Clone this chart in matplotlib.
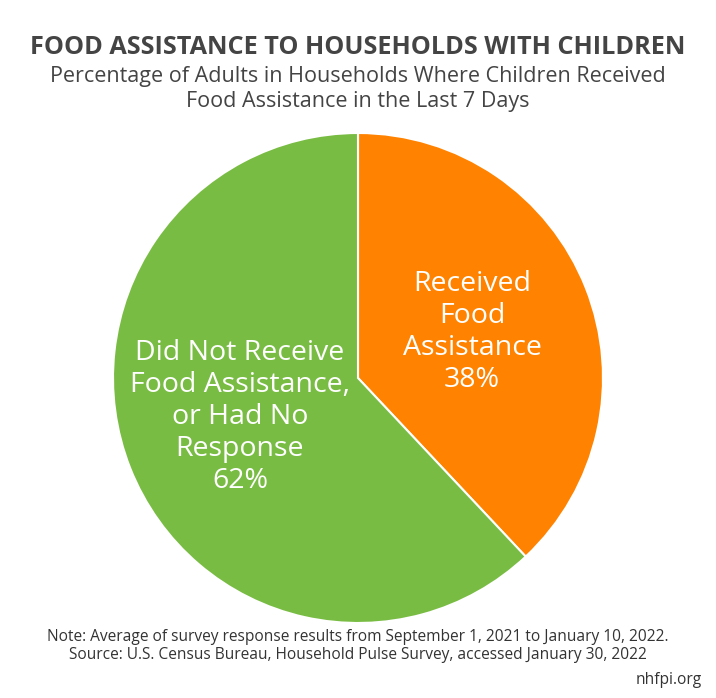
import matplotlib.pyplot as plt

labels = ['Received\nFood\nAssistance\n38%',
          'Did Not Receive\nFood Assistance,\nor Had No\nResponse\n62%']
values = [38, 62]
colors = ['#FF8300', '#79BC43']

plt.rcParams['font.family'] = ['Open Sans', 'DejaVu Sans']

fig = plt.figure(figsize=(7.16, 6.98), dpi=100)
ax = fig.add_axes([113 / 716, 75 / 698, 490 / 716, 490 / 698])

wedges, _ = ax.pie(values, colors=colors, startangle=90, counterclock=False,
                   radius=1, wedgeprops=dict(edgecolor='white', linewidth=1.5))
ax.set_xlim(-1, 1)
ax.set_ylim(-1, 1)
ax.set_aspect('equal')

# slice labels (placed in data coords of the pie)
ax.text((472 - 358) / 245, -(332 - 378) / 245, labels[0], ha='center', va='center',
        color='white', fontsize=20.5, linespacing=1.18)
ax.text((240 - 358) / 245, -(417 - 378) / 245, labels[1], ha='center', va='center',
        color='white', fontsize=20.5, linespacing=1.18)

fig.text(0.5, 1 - 47 / 698, 'FOOD ASSISTANCE TO HOUSEHOLDS WITH CHILDREN',
         ha='center', va='center', fontsize=18.2, fontweight='bold', color='#444444')
fig.text(0.5, 1 - 89 / 698,
         'Percentage of Adults in Households Where Children Received\nFood Assistance in the Last 7 Days',
         ha='center', va='center', fontsize=15.5, color='#444444', linespacing=1.2)

fig.text(0.5, 1 - 646 / 698,
         'Note: Average of survey response results from September 1, 2021 to January 10, 2022.\n'
         'Source: U.S. Census Bureau, Household Pulse Survey, accessed January 30, 2022',
         ha='center', va='center', fontsize=11.2, color='#333333', linespacing=1.15)
fig.text(702 / 716, 1 - 680 / 698, 'nhfpi.org', ha='right', va='center',
         fontsize=11.2, color='#333333')

fig.savefig('out.png', dpi=100)
